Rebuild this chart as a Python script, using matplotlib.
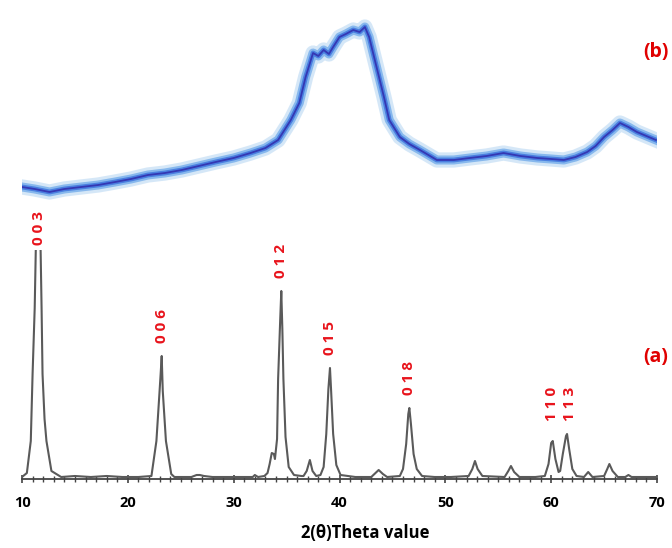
import numpy as np
import matplotlib.pyplot as plt
from matplotlib.ticker import MultipleLocator

# (a) crystalline pattern (2theta, intensity)
two_theta_a = [10.0, 10.46, 10.83, 11.0, 11.2, 11.3, 11.34, 11.71, 11.76, 11.85, 11.94,
               12.13, 12.31, 12.78, 13.7, 15.0, 16.5, 18.0, 19.5, 21.0, 22.23,
               22.7, 23.0, 23.1, 23.2, 23.3, 23.6, 24.1, 24.4, 26.0, 26.5, 26.8, 27.2,
               28.0, 30.0, 31.8, 32.0, 32.3, 32.9, 33.2, 33.4, 33.6, 33.8, 33.9,
               34.1, 34.2, 34.4, 34.5, 34.6, 34.7, 34.9, 35.2, 35.7, 36.4, 36.6,
               36.9, 37.2, 37.45, 37.8, 38.2, 38.5, 38.75, 38.95, 39.1, 39.2, 39.4,
               39.7, 40.1, 41.5, 43.0, 43.4, 43.7, 44.1, 44.5, 45.7, 46.0, 46.3,
               46.5, 46.6, 46.75, 47.0, 47.3, 47.8, 49.0, 50.5, 52.2, 52.55, 52.8,
               53.05, 53.5, 55.6, 55.95, 56.2, 56.5, 57.0, 58.5, 59.4, 59.75, 60.0,
               60.15, 60.4, 60.7, 60.85, 61.1, 61.4, 61.5, 61.7, 62.0, 62.4, 63.1,
               63.5, 63.9, 65.0, 65.3, 65.5, 65.8, 66.3, 67.0, 67.3, 67.6, 68.5, 69.9]
intensity_a = [2, 6, 38, 105, 171, 228, 240, 240, 228, 171, 105,
               60, 38, 8, 2, 3, 2, 3, 2, 2, 3,
               38, 88, 105, 123, 88, 38, 5, 2, 2, 4, 4, 3,
               2, 2, 2, 4, 2, 3, 6, 15, 26, 25, 20,
               40, 100, 160, 188, 150, 100, 42, 12, 4, 3, 3,
               8, 19, 8, 3, 4, 12, 45, 90, 111, 90, 45,
               14, 4, 2, 2, 6, 9, 5, 2, 3, 10, 35,
               65, 71, 55, 25, 10, 3, 2, 2, 3, 10, 18,
               10, 3, 2, 8, 13, 7, 2, 2, 3, 15, 36,
               38, 20, 7, 8, 25, 43, 45, 30, 10, 3, 2,
               7, 2, 3, 10, 15, 8, 2, 2, 4, 2, 2, 2]

# (b) amorphous pattern
two_theta_b = [10.0, 11.2, 12.6, 14.0, 15.6, 17.2, 18.8, 20.3, 21.9, 23.5, 25.1,
               26.7, 28.3, 30.0, 31.6, 33.0, 34.2, 34.8, 35.4, 36.2, 36.8, 37.5,
               38.0, 38.5, 39.0, 39.4, 40.0, 40.6, 41.3, 41.9, 42.4, 42.8, 43.5,
               44.2, 44.7, 45.7, 46.6, 47.6, 48.4, 49.2, 50.8, 52.3, 53.9, 55.5,
               57.1, 58.7, 60.0, 61.2, 62.3, 63.4, 64.2, 65.0, 65.8, 66.5, 67.3,
               68.1, 69.0, 69.9]
intensity_b = [23, 21, 18, 21, 23, 25, 28, 31, 35, 37, 40,
               44, 48, 52, 57, 62, 70, 80, 90, 107, 133, 157,
               154, 160, 156, 163, 173, 176, 180, 178, 183, 173, 143,
               113, 90, 73, 66, 60, 55, 50, 50, 52, 54, 57,
               54, 52, 51, 50, 53, 58, 64, 73, 80, 87, 83,
               78, 74, 70]

hkl = ["0 0 3", "0 0 6", "0 1 2", "0 1 5", "0 1 8", "1 1 0", "1 1 3"]
hkl_pos = [11.6, 23.2, 34.45, 39.1, 46.6, 60.1, 61.75]

plt.rcParams['font.family'] = ['Open Sans', 'DejaVu Sans']

fig = plt.figure(figsize=(6.72, 5.48), dpi=100)
W, H = 672, 548

# bottom panel (a)
ax_a = fig.add_axes([22 / W, 1 - 479 / H, 635 / W, 229 / H])
ax_a.plot(two_theta_a, intensity_a, color='#5a5a5a', lw=1.5)
ax_a.set_xlim(10, 70)
ax_a.set_ylim(0, 229)
for s in ['top', 'left', 'right']:
    ax_a.spines[s].set_visible(False)
ax_a.spines['bottom'].set_color('#444444')
ax_a.spines['bottom'].set_linewidth(1.3)
ax_a.set_yticks([])
ax_a.xaxis.set_major_locator(MultipleLocator(10))
ax_a.xaxis.set_minor_locator(MultipleLocator(1))
ax_a.tick_params(axis='x', which='major', direction='inout', length=6, width=1.2,
                 color='#444444', pad=9, labelsize=10.5)
ax_a.tick_params(axis='x', which='minor', direction='inout', length=4, width=1,
                 color='#444444')
for lbl in ax_a.get_xticklabels():
    lbl.set_fontweight('bold')
ax_a.set_xlabel('2(θ)Theta value', fontsize=12, fontweight='bold', labelpad=9)
ax_a.xaxis.set_label_coords(0.54, -0.195)

x_arr = np.array(two_theta_a)
y_arr = np.array(intensity_a)
for name, pos in zip(hkl, hkl_pos):
    near = (x_arr > pos - 1.5) & (x_arr < pos + 1.5)
    y_lab = min(y_arr[near].max() + 13, 234)
    ax_a.text(pos, y_lab, name, rotation=90, ha='center', va='bottom',
              color='#e8141c', fontsize=11, fontweight='bold', clip_on=False)

# top panel (b)
ax_b = fig.add_axes([22 / W, 1 - 210 / H, 635 / W, 210 / H])
ax_b.plot(two_theta_b, intensity_b, color='#c4def5', lw=11, alpha=0.7,
          solid_joinstyle='round')
ax_b.plot(two_theta_b, intensity_b, color='#7fb3ec', lw=6.5, alpha=0.9)
ax_b.plot(two_theta_b, intensity_b, color='#4a7fe0', lw=3.5)
ax_b.plot(two_theta_b, intensity_b, color='#3438b4', lw=1.3)
ax_b.set_xlim(10, 70)
ax_b.set_ylim(0, 210)
ax_b.axis('off')

fig.text(643 / W, 1 - 52 / H, '(b)', color='#e00000', fontsize=14,
         fontweight='bold', ha='left', va='center')
fig.text(643 / W, 1 - 357 / H, '(a)', color='#e00000', fontsize=14,
         fontweight='bold', ha='left', va='center')

fig.savefig('out.png', dpi=100)
